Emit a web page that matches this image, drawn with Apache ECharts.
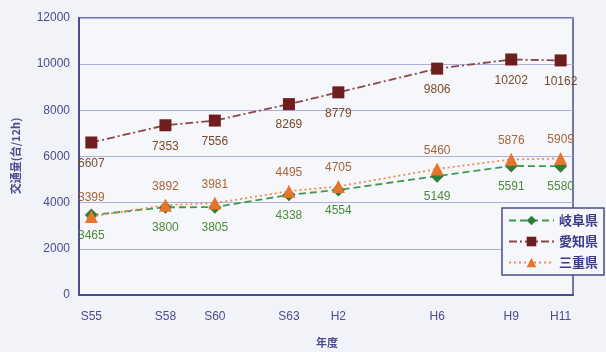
<!DOCTYPE html>
<html>
<head>
<meta charset="utf-8">
<script src="https://cdn.jsdelivr.net/npm/echarts@6/dist/echarts.min.js"></script>
<style>
  html, body { margin: 0; padding: 0; background: #f1f3f8; }
  #chart { width: 606px; height: 352px; }
</style>
</head>
<body>
<div id="chart"></div>
<script>
// Survey years (Western calendar) and their era labels
const years = [1980, 1983, 1985, 1988, 1990, 1994, 1997, 1999];
const yearLabels = ['S55', 'S58', 'S60', 'S63', 'H2', 'H6', 'H9', 'H11'];

// Traffic volume (vehicles / 12h) per prefecture
const gifu = [3465, 3800, 3805, 4338, 4554, 5149, 5591, 5580];
const aichi = [6607, 7353, 7556, 8269, 8779, 9806, 10202, 10162];
const mie = [3399, 3892, 3981, 4495, 4705, 5460, 5876, 5909];

const seriesNames = ['岐阜県', '愛知県', '三重県'];

const axisColor = '#4b4b8f';
const gridColor = '#aeb0dc';
const jpFont = '"Noto Sans CJK JP", sans-serif';
const numFont = '"Liberation Sans", Arial, sans-serif';

const pairs = arr => years.map((y, i) => [y, arr[i]]);

const chart = echarts.init(document.getElementById('chart'), null, { renderer: 'canvas' });

chart.setOption({
  backgroundColor: '#f1f3f8',
  animation: false,
  grid: {
    left: 79, right: 33, top: 18, bottom: 57,
    show: true, borderColor: axisColor, borderWidth: 1.5,
    backgroundColor: '#f6f7fb'
  },
  xAxis: {
    type: 'value',
    min: 1979.5,
    max: 1999.5,
    axisLine: { show: true, lineStyle: { color: axisColor, width: 2 } },
    axisTick: { show: false },
    splitLine: { show: false },
    axisLabel: {
      customValues: years,
      formatter: v => yearLabels[years.indexOf(v)],
      color: axisColor, fontSize: 12, fontFamily: numFont, margin: 16
    }
  },
  yAxis: {
    type: 'value',
    min: 0, max: 12000, interval: 2000,
    axisLine: { show: true, lineStyle: { color: axisColor, width: 2 } },
    axisTick: { show: false },
    splitLine: { show: true, lineStyle: { color: gridColor, width: 1.2 } },
    axisLabel: {
      formatter: v => String(v),
      color: axisColor, fontSize: 12, fontFamily: numFont, margin: 9
    }
  },
  legend: {
    orient: 'vertical',
    right: 2, top: 208,
    itemWidth: 45, itemHeight: 12, itemGap: 8,
    padding: [6, 6, 6, 6],
    backgroundColor: '#f6f7fb',
    borderColor: axisColor, borderWidth: 1.5, borderRadius: 0,
    textStyle: { color: '#3b3b8a', fontSize: 13, fontWeight: 'bold', fontFamily: jpFont },
    data: seriesNames
  },
  graphic: [
    {
      type: 'text', x: 16, y: 156,
      rotation: Math.PI / 2,
      style: {
        text: '交通量(台/12h)', fill: axisColor, font: 'bold 11px ' + jpFont,
        align: 'center', verticalAlign: 'middle'
      }
    },
    {
      type: 'text', x: 327, y: 343,
      style: {
        text: '年度', fill: axisColor, font: 'bold 11px ' + jpFont,
        align: 'center', verticalAlign: 'middle'
      }
    }
  ],
  series: [
    {
      name: seriesNames[0], type: 'line', data: pairs(gifu),
      symbol: 'diamond', symbolSize: 13,
      itemStyle: { color: '#2f7d3a' },
      lineStyle: { color: '#3f9a50', width: 1.8, type: [7, 4] },
      label: { show: true, position: 'bottom', distance: 8, color: '#4d8a3c', fontSize: 12, fontFamily: numFont },
      z: 3
    },
    {
      name: seriesNames[1], type: 'line', data: pairs(aichi),
      symbol: 'rect', symbolSize: 12,
      itemStyle: { color: '#6e1e1e' },
      lineStyle: { color: '#8a4848', width: 1.8, type: [8, 3, 2, 3] },
      label: { show: true, position: 'bottom', distance: 9, color: '#7a4a2a', fontSize: 12, fontFamily: numFont },
      z: 3
    },
    {
      name: seriesNames[2], type: 'line', data: pairs(mie),
      symbol: 'triangle', symbolSize: 13,
      itemStyle: { color: '#e8742a' },
      lineStyle: { color: '#f08a4a', width: 1.8, type: [2, 3] },
      label: { show: true, position: 'top', distance: 6, color: '#a8643a', fontSize: 12, fontFamily: numFont },
      z: 4
    }
  ]
});
</script>
</body>
</html>
